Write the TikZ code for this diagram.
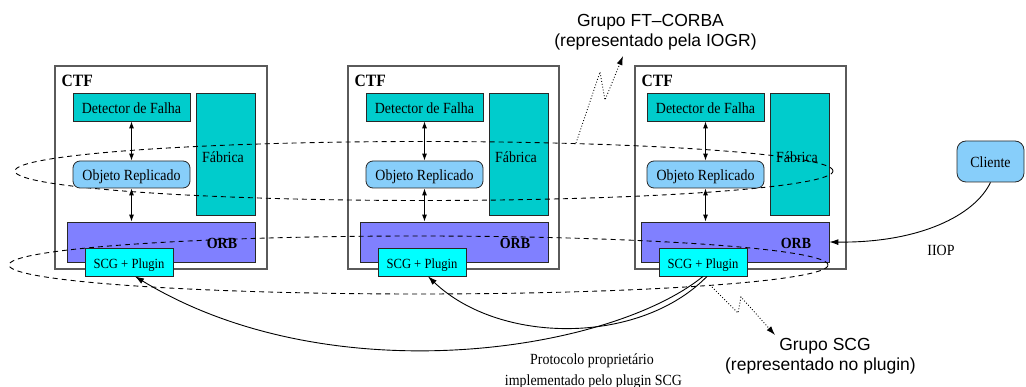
\documentclass[tikz,border=0pt]{standalone}
\usepackage{fontspec}
\setmainfont{Liberation Serif}[FakeStretch=0.9]
\newfontfamily\grpfont{Liberation Sans}
\usetikzlibrary{arrows.meta,calc}
\definecolor{fdteal}{RGB}{0,204,204}
\definecolor{objblue}{RGB}{135,206,250}
\definecolor{orbblue}{RGB}{128,128,255}
\definecolor{scgcyan}{RGB}{0,255,255}
\definecolor{ctfgray}{RGB}{90,90,90}
\definecolor{edgegray}{RGB}{40,40,40}
\begin{document}
\begin{tikzpicture}[x=1pt,y=-1pt,
  txt/.style={font=\fontsize{15.5}{18}\selectfont},
  ctfbox/.style={draw=ctfgray,line width=1.3pt,fill=white,inner sep=0},
  boxbase/.style={draw=edgegray,line width=0.8pt,inner sep=0,text height=12.6pt,text depth=0pt},
  detbox/.style={boxbase,fill=fdteal,minimum width=117pt,minimum height=28pt,txt},
  fabbox/.style={draw=edgegray,line width=0.8pt,fill=fdteal,inner sep=0,minimum width=59pt,minimum height=122pt},
  objbox/.style={boxbase,fill=objblue,rounded corners=7pt,minimum width=117pt,minimum height=27pt,txt},
  orbbox/.style={draw=edgegray,line width=0.8pt,fill=orbblue,inner sep=0,minimum width=188pt,minimum height=40pt},
  scgbox/.style={boxbase,fill=scgcyan,minimum width=88pt,minimum height=28pt,font=\fontsize{14}{16}\selectfont},
  clibox/.style={boxbase,fill=objblue,rounded corners=9pt,minimum width=67pt,minimum height=41pt,txt},
  ctflabel/.style={font=\fontsize{17.3}{20}\selectfont\bfseries,anchor=base west,inner sep=0},
  orblabel/.style={font=\fontsize{15.5}{18}\selectfont\bfseries,anchor=base,inner sep=0},
  plainlabel/.style={txt,anchor=base,inner sep=0},
  grplabel/.style={font=\grpfont\fontsize{17.5}{21}\selectfont,anchor=base,inner sep=0},
  grouping/.style={dash pattern=on 5pt off 4pt,line width=0.9pt},
  vert/.style={{Latex[length=7pt,width=5pt]}-{Latex[length=7pt,width=5pt]},line width=0.9pt},
  link/.style={-{Latex[length=9pt,width=6pt]},line width=0.9pt},
  pointer/.style={dotted,line width=0.9pt,-{Latex[length=9pt,width=6pt]}},
]
\useasboundingbox (0,0) rectangle (1026,387);

% CTF containers, factories and ORBs
\foreach \k/\L/\R/\D in {1/55/267/73, 2/348/559/366, 3/635/846/647}{
  \node[ctfbox,minimum width={(\R-\L)*1pt},minimum height=203pt] (ctf\k) at ({(\L+\R)/2},167.5) {};
  \node[ctflabel] (ctft\k) at (\L+6.5,86.5) {CTF};
  \node[fabbox] (fab\k) at (\D+152.5,154) {};
  \node[plainlabel] (fabt\k) at (\D+150,162.5) {Fábrica};
  \node[orbbox] (orb\k) at (\D+88,242) {};
  \node[orblabel] (orbt\k) at (\D+149,249) {ORB};
}

% group ellipses
\draw[grouping] (424,171) ellipse [x radius=409pt, y radius=29.5pt];
\draw[grouping] (418.5,265) ellipse [x radius=409.5pt, y radius=29pt];

% detectors, replicated objects, SCG plugins
\foreach \k/\D in {1/73, 2/366, 3/647}{
  \node[detbox] (det\k) at (\D+58.5,107) {Detector de Falha};
  \node[objbox] (obj\k) at (\D+58.5,174.5) {Objeto Replicado};
  \node[scgbox] (scg\k) at (\D+56,262) {SCG + Plugin};
  \draw[vert] (det\k.south) -- (obj\k.north);
  \draw[vert] (obj\k.south) -- (obj\k.south |- orb\k.north);
}

% client
\node[clibox] (cli) at (990.5,161.5) {Cliente};
\draw[link] (cli.south) .. controls (975,215) and (920,243) .. (orb3.east);
\node[plainlabel] (iiop) at (941,256) {IIOP};

% proprietary protocol links
\draw[link] (scg3.south) .. controls (610,352) and (330,395) .. ([xshift=6pt]scg1.south);
\draw[link] ([xshift=4pt]scg3.south) .. controls (640,345) and (500,345) .. ([xshift=6pt]scg2.south);
\node[plainlabel] (proto1) at (592,364.5) {Protocolo proprietário};
\node[plainlabel] (proto2) at (593.5,385) {implementado pelo plugin SCG};

% group labels and pointers
\node[grplabel] (ft1) at (650.5,26.5) {Grupo FT–CORBA};
\node[grplabel] (ft2) at (655.5,47) {(representado pela IOGR)};
\node[grplabel] (sg1) at (825,350.5) {Grupo SCG};
\node[grplabel] (sg2) at (820.5,370.5) {(representado no plugin)};

\coordinate (ftfrom) at (576,143);
\coordinate (ftto) at (623,56);
\coordinate (sgfrom) at (712,287);
\coordinate (sgto) at (775,335);
\draw[pointer] (ftfrom) -- (600,72) -- (605,100) -- (ftto);
\draw[pointer] (sgfrom) -- (738,313) -- (741,297) -- (sgto);
\end{tikzpicture}
\end{document}
